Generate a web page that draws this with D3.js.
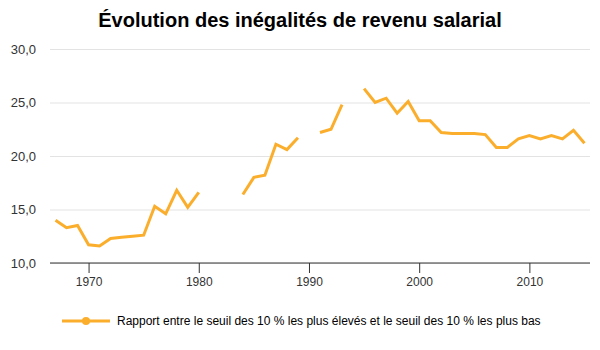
<!DOCTYPE html>
<html>
<head>
<meta charset="utf-8">
<script src="https://cdn.jsdelivr.net/npm/d3@7"></script>
<style>
  body { margin: 0; background: #fff; }
  svg { display: block; font-family: "Liberation Sans", Arial, sans-serif; }
</style>
</head>
<body>
<svg id="chart" width="600" height="350"></svg>
<script>
const title = "Évolution des inégalités de revenu salarial";
const seriesName = "Rapport entre le seuil des 10 % les plus élevés et le seuil des 10 % les plus bas";
const years = [1967,1968,1969,1970,1971,1972,1973,1974,1975,1976,1977,1978,1979,1980,1981,1982,1983,1984,1985,1986,1987,1988,1989,1990,1991,1992,1993,1994,1995,1996,1997,1998,1999,2000,2001,2002,2003,2004,2005,2006,2007,2008,2009,2010,2011,2012,2013,2014,2015];
const values = [14.0,13.3,13.5,11.7,11.6,12.3,12.4,12.5,12.6,15.3,14.6,16.8,15.2,16.6,null,null,null,16.4,18.0,18.2,21.1,20.6,21.7,null,22.2,22.5,24.8,null,26.3,25.0,25.4,24.0,25.1,23.3,23.3,22.2,22.1,22.1,22.1,22.0,20.8,20.8,21.6,21.9,21.6,21.9,21.6,22.4,21.2];
const yTicks = [10,15,20,25,30];
const xTicks = [1970,1980,1990,2000,2010];

const data = years.map((y,i) => ({year: y, value: values[i]}));
const svg = d3.select("#chart");
const color = "#FBAE2C";

const x = d3.scaleLinear().domain([1966.5, 2015.5]).range([50, 590]);
const y = d3.scaleLinear().domain([10, 30]).range([263, 49]);

// title
svg.append("text").attr("x", 300).attr("y", 27).attr("text-anchor", "middle")
  .attr("font-size", 20).attr("font-weight", "bold").attr("fill", "#000").text(title);

// gridlines + y labels
const yAxis = d3.axisLeft(y).tickValues(yTicks).tickSize(-540).tickFormat(d => d3.format(".1f")(d).replace(".", ","));
const gy = svg.append("g").attr("transform", "translate(50,0)").call(yAxis);
gy.select(".domain").remove();
gy.selectAll(".tick line").attr("stroke", "#e3e3e3");
gy.selectAll(".tick text").attr("font-size", 13).attr("fill", "#333").attr("x", -14)
  .attr("font-family", "Liberation Sans, Arial, sans-serif");

// x axis
const xAxis = d3.axisBottom(x).tickValues(xTicks).tickSize(10).tickPadding(4).tickFormat(d3.format("d"));
const gx = svg.append("g").attr("transform", "translate(0,263)").call(xAxis);
gx.select(".domain").attr("stroke", "#333").attr("d", "M50,0H590");
gx.selectAll(".tick line").attr("stroke", "#333");
gx.selectAll(".tick text").attr("font-size", 12).attr("fill", "#333")
  .attr("font-family", "Liberation Sans, Arial, sans-serif");

// line
const line = d3.line().defined(d => d.value !== null).x(d => x(d.year)).y(d => y(d.value));
svg.append("path").datum(data).attr("d", line).attr("fill", "none")
  .attr("stroke", color).attr("stroke-width", 3).attr("stroke-linejoin", "miter");

// legend
const lg = svg.append("g");
lg.append("line").attr("x1", 62).attr("x2", 110).attr("y1", 321).attr("y2", 321)
  .attr("stroke", color).attr("stroke-width", 3);
lg.append("circle").attr("cx", 86).attr("cy", 321).attr("r", 4).attr("fill", color);
lg.append("text").attr("x", 117).attr("y", 325).attr("font-size", 12).attr("fill", "#000").text(seriesName);
</script>
</body>
</html>
